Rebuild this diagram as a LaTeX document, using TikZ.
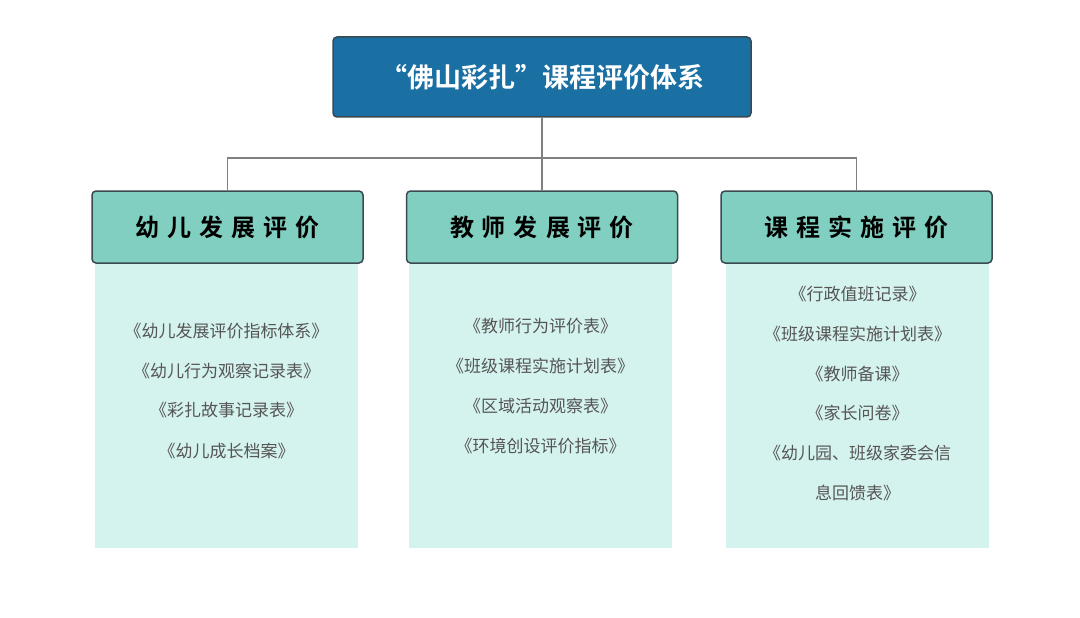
\documentclass[tikz,border=0pt]{standalone}
\usepackage{fontspec}
\newfontfamily\cjk{Noto Sans CJK SC}
\newfontfamily\cjkb{Noto Sans CJK SC Bold}
\usetikzlibrary{positioning}
\definecolor{topblue}{HTML}{1A6FA3}
\definecolor{edgegrey}{HTML}{3A4A50}
\definecolor{catteal}{HTML}{80CFC0}
\definecolor{panel}{HTML}{D5F3EE}
\definecolor{txtgrey}{HTML}{555555}
\tikzset{
  titlebox/.style={draw=edgegrey, line width=1.5pt, fill=topblue, rounded corners=4pt,
    minimum width=418pt, minimum height=80pt, text=white, font=\cjkb\fontsize{27}{30}\selectfont},
  catbox/.style={draw=edgegrey, line width=1.5pt, fill=catteal, rounded corners=4pt,
    minimum width=271pt, minimum height=72pt, font=\cjkb\fontsize{24}{28}\selectfont},
  panelbox/.style={fill=panel, minimum width=263pt, minimum height=285pt, anchor=north},
  item/.style={text=txtgrey, font=\cjk\fontsize{17}{20}\selectfont},
  link/.style={draw=gray, line width=1.6pt}
}
\begin{document}
\begin{tikzpicture}[x=1pt,y=-1pt]
\useasboundingbox (0,0) rectangle (1080,618);
% panels first
\node[panelbox] (p1) at (226.5,263) {};
\node[panelbox] (p2) at (540.5,263) {};
\node[panelbox] (p3) at (857.5,263) {};
\node[titlebox] (top) at (542,77) {“佛山彩扎”课程评价体系};
\node[catbox] (c1) at (227.5,227) {幼\,\,儿\,\,发\,\,展\,\,评\,\,价};
\node[catbox] (c2) at (542,227) {教\,\,师\,\,发\,\,展\,\,评\,\,价};
\node[catbox] (c3) at (856.5,227) {课\,\,程\,\,实\,\,施\,\,评\,\,价};
\coordinate (hub) at (542,158);
\draw[link] (top.south) -- (hub);
\draw[link] (c1.north) |- (hub) -| (c3.north);
\draw[link] (hub) -- (c2.north);
% lists
\node[item] (a1) at (226.5,331) {《幼儿发展评价指标体系》};
\node[item] (a2) at (226.5,371) {《幼儿行为观察记录表》};
\node[item] (a3) at (226.5,410) {《彩扎故事记录表》};
\node[item] (a4) at (226.5,451) {《幼儿成长档案》};
\node[item] (b1) at (540.5,326) {《教师行为评价表》};
\node[item] (b2) at (540.5,366) {《班级课程实施计划表》};
\node[item] (b3) at (540.5,406) {《区域活动观察表》};
\node[item] (b4) at (540.5,446) {《环境创设评价指标》};
\node[item] (d1) at (857.5,294) {《行政值班记录》};
\node[item] (d2) at (857.5,334) {《班级课程实施计划表》};
\node[item] (d3) at (857.5,374) {《教师备课》};
\node[item] (d4) at (857.5,413) {《家长问卷》};
\node[item] (d5) at (857.5,453) {《幼儿园、班级家委会信};
\node[item] (d6) at (857.5,493) {息回馈表》};
\end{tikzpicture}
\end{document}
